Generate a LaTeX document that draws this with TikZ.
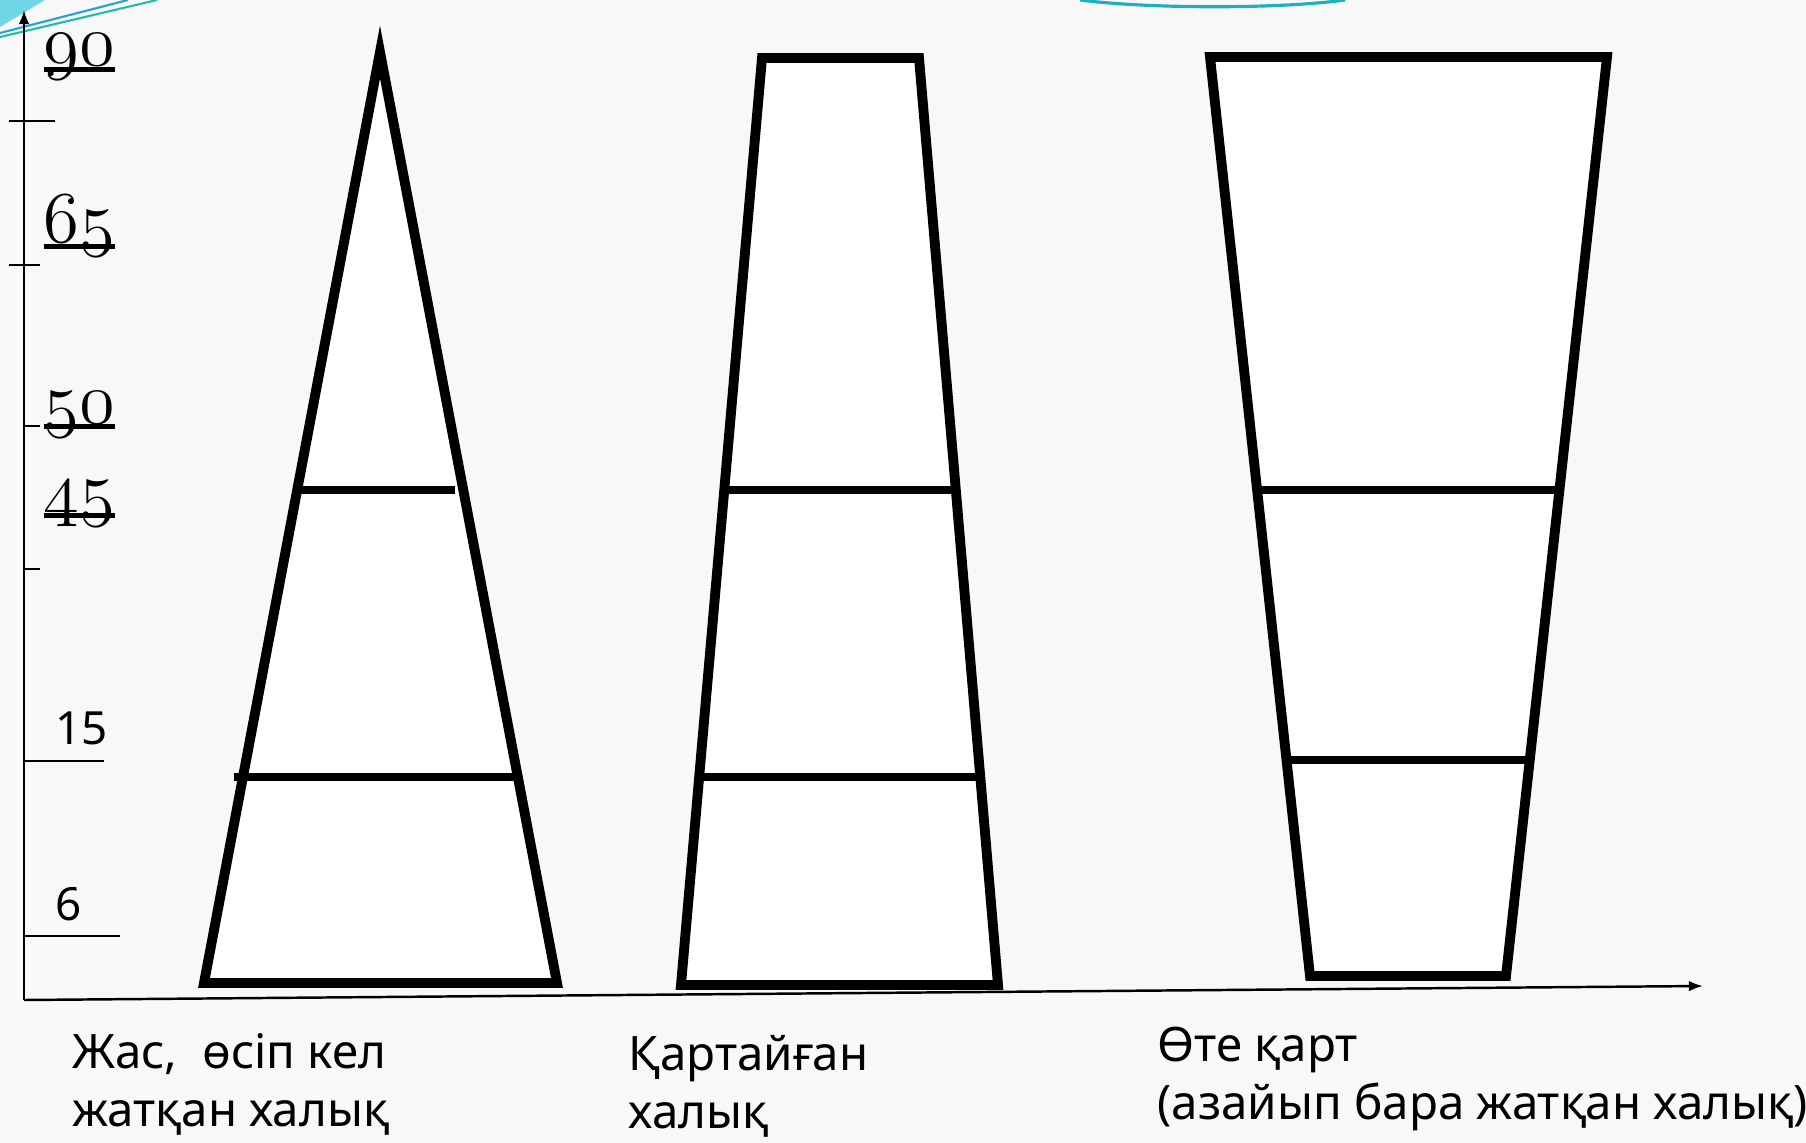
\documentclass[tikz,border=0pt]{standalone}
\usepackage{fontspec}
\setmainfont{Noto Sans}
\usetikzlibrary{arrows.meta}
\definecolor{bggray}{RGB}{248,248,248}
\definecolor{slidecyan}{RGB}{112,214,232}
\definecolor{slideblue}{RGB}{40,160,210}
\definecolor{slidegreen}{RGB}{30,192,165}
\definecolor{slideteal}{RGB}{30,175,190}
% underlined old-style age numbers
\newcommand\ulnum[1]{\setbox0=\hbox{\fontsize{20}{24}\usefont{OML}{lmm}{b}{it}#1}\rlap{\copy0}\rule[-1.8pt]{\wd0}{1.4pt}}

\begin{document}
\begin{tikzpicture}[x=0.01cm, y=-0.01cm,
  axis/.style={line width=0.7pt, -{Latex[length=4pt,width=3pt]}},
  tickline/.style={line width=0.7pt},
  pyramid/.style={draw, fill=white, line width=2.8pt},
  ageline/.style={line width=2.2pt},
  agenum/.style={anchor=base west, inner sep=0pt},
  agesans/.style={anchor=west, inner sep=0pt, font=\fontsize{13}{15}\selectfont},
  popnote/.style={anchor=west, align=left, inner sep=0pt, font=\fontsize{13.5}{16.5}\selectfont}]
\useasboundingbox (0,0) rectangle (1806,1143);
\fill[bggray] (0,0) rectangle (1806,1143);

% slide decoration
\fill[slidecyan] (0,0) -- (45,0) -- (0,27) -- cycle;
\draw[slideblue, line width=0.6pt] (0,33) -- (128,0);
\draw[slidegreen, line width=0.6pt] (0,37) -- (157,0);
\draw[slideteal, line width=0.9pt] (1080,0) .. controls (1150,9) and (1280,9) .. (1345,0);

% axes
\coordinate (origin) at (24,1000);
\coordinate (ytop) at (24,10);
\coordinate (xend) at (1703,986);
\draw[axis] (origin) -- (ytop);
\draw[axis] (origin) -- (xend);
\foreach \y/\a/\b in {121/9/55, 265/9/40, 426/24/40, 569/24/40, 761/24/104, 936/24/120}
  \draw[tickline] (\a,\y) -- (\b,\y);

% age marks
\node[agenum] (n90) at (43,66) {\ulnum{90}};
\node[agenum] (n65) at (43,243) {\ulnum{65}};
\node[agenum] (n50) at (43,423) {\ulnum{50}};
\node[agenum] (n45) at (43,512) {\ulnum{45}};
\node[agesans] (n15) at (55,728) {15};
\node[agesans] (n6) at (55,904) {6};

% young population
\draw[pyramid] (380,52) -- (557,983) -- (204,983) -- cycle;
\draw[ageline] (297,490) -- (455,490);
\draw[ageline] (234,777) -- (516,777);

% aged population
\draw[pyramid] (762,58) -- (919,58) -- (998,985) -- (681,985) -- cycle;
\draw[ageline] (726,490) -- (954,490);
\draw[ageline] (701,777) -- (979,777);

% very old population
\draw[pyramid] (1210,57) -- (1607,57) -- (1506,976) -- (1310,976) -- cycle;
\draw[ageline] (1259,490) -- (1558,490);
\draw[ageline] (1288,760) -- (1528,760);

% captions
\node[popnote] (young) at (72,1084) {Жас,\ \ өсіп кел\\жатқан халық};
\node[popnote] (aged) at (628,1086) {Қартайған\\халық};
\node[popnote] (old) at (1157,1079) {Өте қарт\\(азайып бара жатқан халық)};
\end{tikzpicture}
\end{document}
